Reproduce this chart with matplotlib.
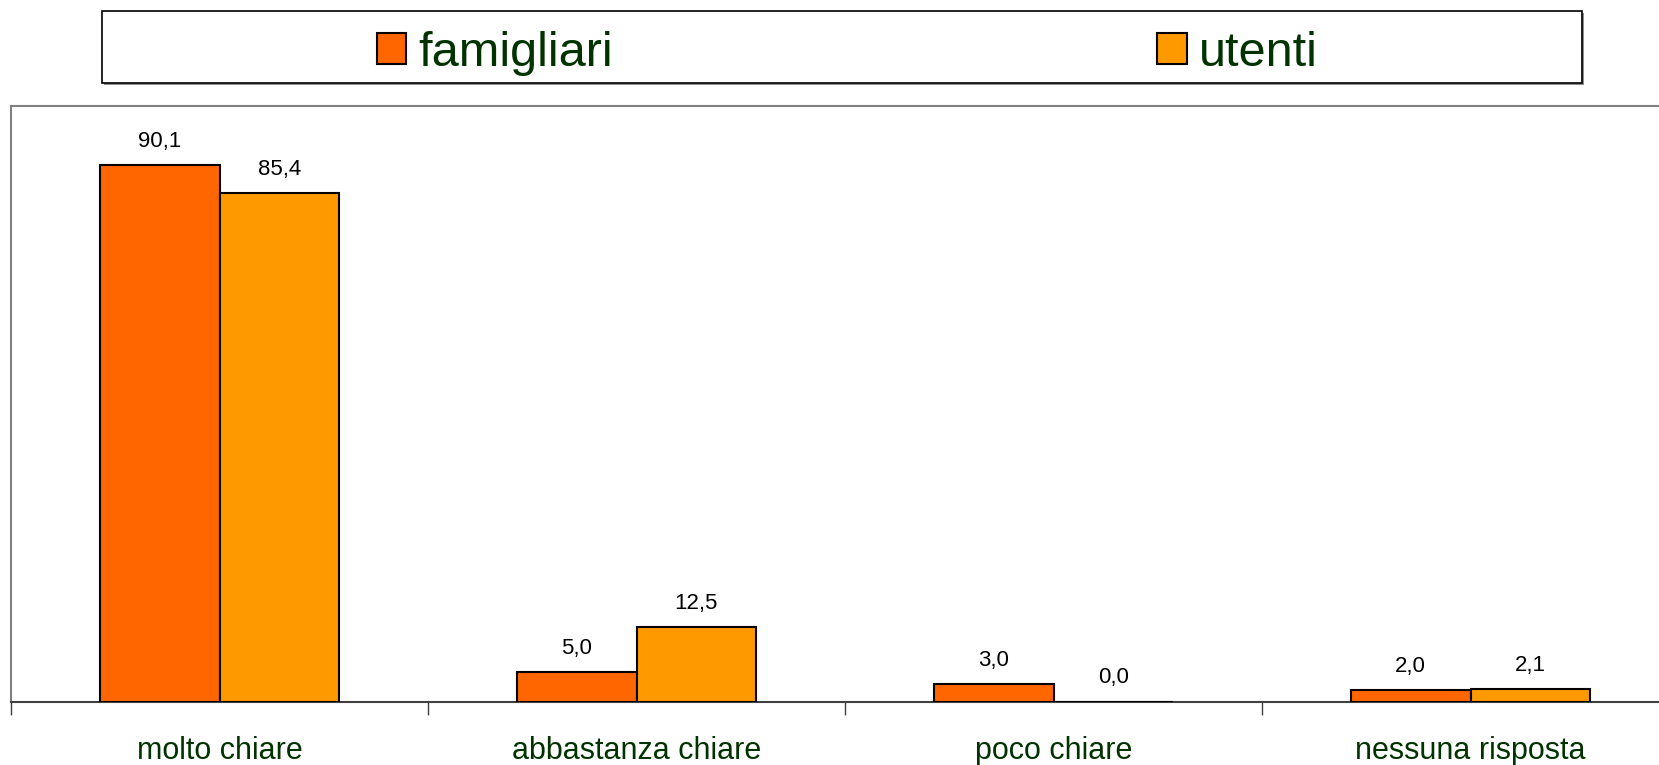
import matplotlib
matplotlib.use("Agg")
import matplotlib.pyplot as plt
from matplotlib.patches import Rectangle, Patch

# ----------------------
# DATA
# ----------------------
categories = ["molto chiare", "abbastanza chiare", "poco chiare", "nessuna risposta"]
famigliari = [90.1, 5.0, 3.0, 2.0]
utenti = [85.4, 12.5, 0.0, 2.1]
series_names = ["famigliari", "utenti"]

COL_FAM = "#FF6600"
COL_UT = "#FF9900"
GREEN = "#003300"

plt.rcParams["font.family"] = ["Liberation Sans", "DejaVu Sans"]

W, H = 1659, 765
fig = plt.figure(figsize=(W / 100, H / 100), dpi=100)

# plot area (pixel coords of the reference)
left, right, top, bottom = 11, 1679, 106, 701.5
ax = fig.add_axes([left / W, 1 - bottom / H, (right - left) / W, (bottom - top) / H])

bw = 0.287
x = list(range(len(categories)))
b1 = ax.bar([i - bw / 2 for i in x], famigliari, bw, color=COL_FAM,
            edgecolor="black", linewidth=1.5, zorder=3)
b2 = ax.bar([i + bw / 2 for i in x], utenti, bw, color=COL_UT,
            edgecolor="black", linewidth=1.5, zorder=3)

# value labels, comma decimal
for bars, vals in ((b1, famigliari), (b2, utenti)):
    for r, v in zip(bars, vals):
        ax.annotate(f"{v:.1f}".replace(".", ","),
                    (r.get_x() + r.get_width() / 2, v),
                    xytext=(0, 18), textcoords="offset pixels",
                    ha="center", va="baseline", fontsize=16, color="black")

ax.set_xlim(-0.5, len(categories) - 0.5)
ax.set_ylim(0, 100)
ax.set_yticks([])
ax.set_xticks(x)
ax.set_xticklabels(categories, fontsize=22, color=GREEN)
ax.tick_params(axis="x", which="major", length=0, pad=25)
ax.set_xticks([i - 0.5 for i in range(len(categories) + 1)], minor=True)
ax.tick_params(axis="x", which="minor", length=9, width=1, color="#404040")

for s in ("left", "top"):
    ax.spines[s].set_color("#808080")
    ax.spines[s].set_linewidth(1.5)
ax.spines["right"].set_visible(False)
ax.spines["bottom"].set_color("#404040")
ax.spines["bottom"].set_linewidth(1.5)

# ----------------------
# LEGEND BOX
# ----------------------
lx0, lx1, ly0, ly1 = 102, 1582, 11, 83
fig.patches.append(Rectangle(((lx0 + 2) / W, 1 - (ly1 + 2) / H), (lx1 - lx0) / W, (ly1 - ly0) / H,
                             transform=fig.transFigure, facecolor="#909090", edgecolor="none"))
fig.patches.append(Rectangle((lx0 / W, 1 - ly1 / H), (lx1 - lx0) / W, (ly1 - ly0) / H,
                             transform=fig.transFigure, facecolor="white", edgecolor="black",
                             linewidth=1.2))
handles = [Patch(facecolor=COL_FAM, edgecolor="black", linewidth=1.5),
           Patch(facecolor=COL_UT, edgecolor="black", linewidth=1.5)]
leg = fig.legend(handles, series_names, loc="center",
                 bbox_to_anchor=((lx0 + lx1) / 2 / W + 0.003, 1 - ((ly0 + ly1) / 2 + 6) / H),
                 ncol=2, frameon=False, fontsize=35, handlelength=0.61, handleheight=0.61,
                 handletextpad=0.24, columnspacing=11.2, borderpad=0)
for t in leg.get_texts():
    t.set_color(GREEN)

fig.savefig("out.png", dpi=100)
